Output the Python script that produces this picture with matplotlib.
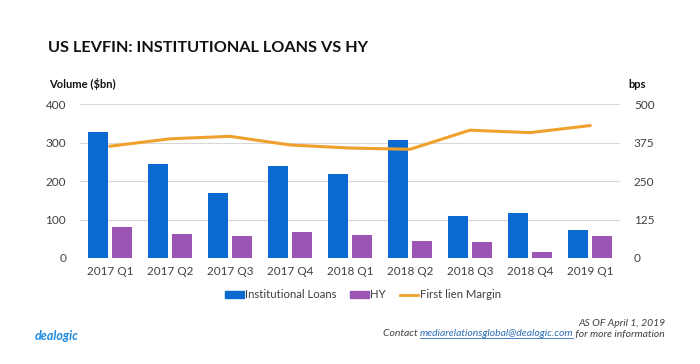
import matplotlib.pyplot as plt
import numpy as np
from matplotlib.lines import Line2D
from matplotlib.patches import Patch

quarters = ['2017 Q1', '2017 Q2', '2017 Q3', '2017 Q4', '2018 Q1',
            '2018 Q2', '2018 Q3', '2018 Q4', '2019 Q1']
inst_loans = [326, 243, 168, 239, 218, 306, 110, 116, 72]
hy = [80, 62, 57, 67, 60, 45, 42, 15, 57]
margin = [363, 387, 395, 367, 357, 353, 415, 407, 430]

BLUE = '#0A6ACF'
PURPLE = '#9B55B5'
ORANGE = '#F0A02C'
TXT = '#404040'

plt.rcParams['font.family'] = ['Lato', 'DejaVu Sans']

fig = plt.figure(figsize=(7, 3.64), dpi=100)
ax = fig.add_axes([80 / 700, 1 - 258 / 364, 540 / 700, 154 / 364])
ax2 = ax.twinx()

x = np.arange(len(quarters))
w = 0.32
ax.bar(x - 0.2, inst_loans, w, color=BLUE, zorder=3)
ax.bar(x + 0.2, hy, w, color=PURPLE, zorder=3)
ax2.plot(x, margin, color=ORANGE, lw=2.2, zorder=4)

ax.set_xlim(-0.5, len(quarters) - 0.5)
ax.set_ylim(0, 400)
ax.set_yticks([0, 100, 200, 300, 400])
ax2.set_ylim(0, 500)
ax2.set_yticks([0, 125, 250, 375, 500])
ax.set_xticks(x)
ax.set_xticklabels(quarters)
ax.grid(axis='y', color='#d9d9d9', lw=0.8, zorder=0)
for a in (ax, ax2):
    for s in a.spines.values():
        s.set_visible(False)
    a.tick_params(length=0, labelsize=8.5, colors=TXT, pad=6)
ax.tick_params(axis='y', pad=10)
ax2.tick_params(axis='y', pad=10)

fig.text(48 / 700, 1 - 48 / 364, 'US LEVFIN: INSTITUTIONAL LOANS VS HY',
         fontsize=11.7, fontweight='bold', color='#111111', va='center')
fig.text(49 / 700, 1 - 84 / 364, 'Volume ($bn)', fontsize=8,
         fontweight='bold', color='#111111', va='center')
fig.text(628 / 700, 1 - 84 / 364, 'bps', fontsize=8,
         fontweight='bold', color='#111111', va='center')

handles = [Patch(color=BLUE), Patch(color=PURPLE),
           Line2D([], [], color=ORANGE, lw=2)]
fig.legend(handles, ['Institutional Loans', 'HY', 'First lien Margin'],
           loc='center', bbox_to_anchor=(363 / 700, 1 - 295 / 364), ncol=3,
           frameon=False, fontsize=8.2, handlelength=1.6, handleheight=0.6,
           handletextpad=0.15, columnspacing=1.2, labelcolor=TXT)

fig.text(35 / 700, 1 - 336 / 364, 'dealogic', fontsize=9,
         fontweight='bold', style='italic', color='#1E8AE0', va='center')

fig.text(665 / 700, 1 - 323 / 364, 'AS OF April 1, 2019', fontsize=7.5,
         style='italic', color=TXT, ha='right', va='center')
t1 = fig.text(665 / 700, 1 - 334 / 364, ' for more information', fontsize=7.5,
              style='italic', color=TXT, ha='right', va='center')
t2 = fig.text(0, 0, 'mediarelationsglobal@dealogic.com', fontsize=7.5,
              style='italic', color='#2F6DB5', ha='right', va='center')
fig.canvas.draw()
bb1 = t1.get_window_extent()
t2.set_position((bb1.x0 / fig.bbox.width, 1 - 334 / 364))
fig.canvas.draw()
bb2 = t2.get_window_extent()
fig.text(bb2.x0 / fig.bbox.width, 1 - 334 / 364, 'Contact ', fontsize=7.5,
         style='italic', color=TXT, ha='right', va='center')
fig.add_artist(Line2D([bb2.x0, bb2.x1], [bb2.y0 + 1, bb2.y0 + 1],
                      transform=None, color='#2F6DB5', lw=0.6))

fig.savefig('out.png', dpi=100)
